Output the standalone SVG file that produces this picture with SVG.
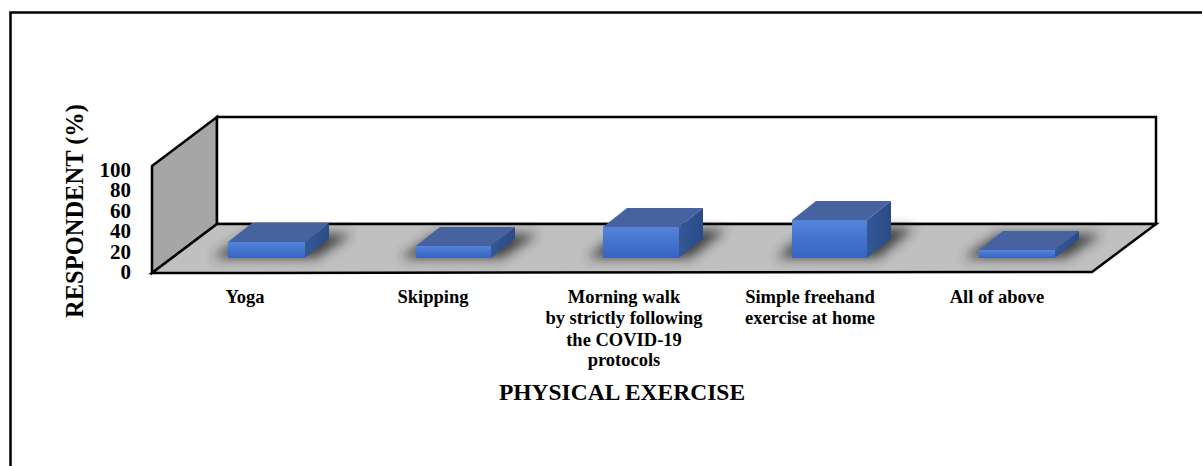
<svg xmlns="http://www.w3.org/2000/svg" width="1202" height="466" viewBox="0 0 1202 466">
<defs>
<linearGradient id="gFront" x1="0" y1="0" x2="0" y2="1"><stop offset="0" stop-color="#5584da"/><stop offset="1" stop-color="#3463c3"/></linearGradient>
<linearGradient id="gSide" x1="0" y1="0" x2="1" y2="0"><stop offset="0" stop-color="#345796"/><stop offset="1" stop-color="#2a4b88"/></linearGradient>
<filter id="blur" x="-50%" y="-200%" width="200%" height="500%"><feGaussianBlur stdDeviation="6"/></filter>
</defs>
<style>
.lbl{font-family:"Liberation Serif","Times New Roman",serif;font-weight:bold;fill:#000}
.cat{font-size:18.5px;text-anchor:middle}
.tick{font-size:21px;text-anchor:end}
.edge{stroke:#000;stroke-width:2.5;stroke-linejoin:miter}
.front{fill:url(#gFront)}
.top{fill:#46639f}
.side{fill:url(#gSide)}
.shadow{fill:#2a2a2a;filter:url(#blur);opacity:0.85}
</style>
<rect x="10.5" y="12.5" width="1200" height="470" fill="#fff" stroke="#000" stroke-width="2.5"/>
<g id="plot">
<polygon class="edge" points="152,166 217,117 217,224 152,273" fill="#a6a6a6"/>
<rect class="edge" x="217" y="117" width="939" height="107" fill="#fff"/>
<polygon class="edge" points="152,273 217,224 1156,224 1092,272" fill="#c0c0c0"/>
</g>
<g id="shadows">
<polygon class="shadow" points="212,258 316,258 352,234 248,234"/>
<polygon class="shadow" points="400,258 502,258 538,234 436,234"/>
<polygon class="shadow" points="587,258 690,258 726,230 623,230"/>
<polygon class="shadow" points="776,258 878,258 914,228 812,228"/>
<polygon class="shadow" points="963,258 1066,258 1102,234 999,234"/>
</g>
<g id="bar-yoga">
<polygon class="top" points="228,242 305,242 329,223 252,223"/>
<polygon class="side" points="305,242 329,223 329,239 305,258"/>
<rect class="front" x="228" y="242" width="77" height="16"/>
</g>
<g id="bar-skipping">
<polygon class="top" points="416,246 491,246 515,227 440,227"/>
<polygon class="side" points="491,246 515,227 515,239 491,258"/>
<rect class="front" x="416" y="246" width="75" height="12"/>
</g>
<g id="bar-morning-walk">
<polygon class="top" points="603,227 679,227 703,208 627,208"/>
<polygon class="side" points="679,227 703,208 703,239 679,258"/>
<rect class="front" x="603" y="227" width="76" height="31"/>
</g>
<g id="bar-freehand">
<polygon class="top" points="792,220 867,220 891,201 816,201"/>
<polygon class="side" points="867,220 891,201 891,239 867,258"/>
<rect class="front" x="792" y="220" width="75" height="38"/>
</g>
<g id="bar-all">
<polygon class="top" points="979,250 1055,250 1079,231 1003,231"/>
<polygon class="side" points="1055,250 1079,231 1079,239 1055,258"/>
<rect class="front" x="979" y="250" width="76" height="8"/>
</g>
<g id="y-axis">
<text class="lbl tick" x="131" y="177">100</text>
<text class="lbl tick" x="131" y="197">80</text>
<text class="lbl tick" x="131" y="218">60</text>
<text class="lbl tick" x="131" y="238">40</text>
<text class="lbl tick" x="131" y="259">20</text>
<text class="lbl tick" x="131" y="279">0</text>
<text class="lbl" font-size="24.5" text-anchor="middle" transform="translate(83,211) rotate(-90)">RESPONDENT (%)</text>
</g>
<g id="x-axis">
<text class="lbl cat" x="245" y="303">Yoga</text>
<text class="lbl cat" x="433" y="303">Skipping</text>
<text class="lbl cat" x="624" y="303">Morning walk</text>
<text class="lbl cat" x="624" y="324">by strictly following</text>
<text class="lbl cat" x="624" y="346">the COVID-19</text>
<text class="lbl cat" x="624" y="366">protocols</text>
<text class="lbl cat" x="810" y="303">Simple freehand</text>
<text class="lbl cat" x="810" y="324">exercise at home</text>
<text class="lbl cat" x="997" y="303">All of above</text>
<text class="lbl" font-size="23.5" text-anchor="middle" x="622" y="400">PHYSICAL EXERCISE</text>
</g>
</svg>
